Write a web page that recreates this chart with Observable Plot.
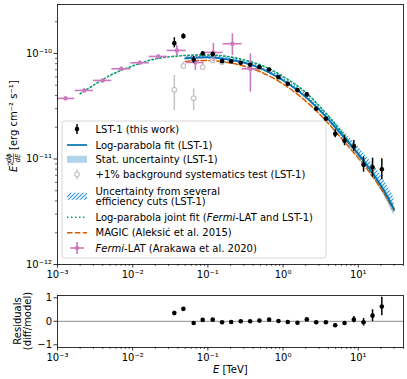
<!DOCTYPE html>
<html>
<head>
<meta charset="utf-8">
<script src="https://cdn.jsdelivr.net/npm/d3@7"></script>
<script src="https://cdn.jsdelivr.net/npm/@observablehq/plot@0.6"></script>
<style>
  html, body { margin: 0; padding: 0; background: white; }
  #wrap { position: relative; width: 407px; height: 379px; background: white; font-family: "DejaVu Sans"; }
  #wrap > svg.plot { position: absolute; left: 0; }
</style>
</head>
<body>
<svg width="0" height="0" style="position:absolute">
  <defs>
    <pattern id="hatch" patternUnits="userSpaceOnUse" width="4" height="4">
      <path d="M-1,1 l2,-2 M0,4 l4,-4 M3,5 l2,-2" stroke="#2e95e0" stroke-width="1.1"/>
    </pattern>
  </defs>
</svg>
<div id="wrap"></div>
<script>
// ---------- data ----------
// LST-1 flux points (TeV, erg cm^-2 s^-1)
const lstE  = [0.0358, 0.0472, 0.0647, 0.0853, 0.116, 0.1545, 0.204, 0.2735, 0.365, 0.485, 0.653, 0.869, 1.156, 1.555, 2.07, 2.76, 3.71, 4.94, 6.57, 8.74, 11.77, 15.5, 20.6];
const lstF  = [1.252e-10, 1.459e-10, 8.72e-11, 1.0e-10, 9.85e-11, 8.45e-11, 8.40e-11, 8.16e-11, 7.81e-11, 7.42e-11, 7.05e-11, 5.96e-11, 5.16e-11, 4.49e-11, 4.09e-11, 2.99e-11, 2.405e-11, 1.734e-11, 1.488e-11, 1.322e-11, 8.81e-12, 8.36e-12, 8.00e-12];
const lstLo = [1.13e-10, 1.366e-10, 8.09e-11, 9.6e-11, 9.45e-11, 8.15e-11, 8.1e-11, 7.9e-11, 7.6e-11, 7.2e-11, 6.85e-11, 5.8e-11, 5.0e-11, 4.35e-11, 3.95e-11, 2.88e-11, 2.3e-11, 1.59e-11, 1.334e-11, 1.186e-11, 7.5e-12, 6.72e-12, 6.35e-12];
const lstHi = [1.409e-10, 1.537e-10, 9.37e-11, 1.04e-10, 1.025e-10, 8.75e-11, 8.7e-11, 8.4e-11, 8.0e-11, 7.65e-11, 7.25e-11, 6.12e-11, 5.32e-11, 4.63e-11, 4.23e-11, 3.1e-11, 2.51e-11, 1.89e-11, 1.66e-11, 1.498e-11, 1.04e-11, 1.018e-11, 1.005e-11];
// residuals (diff/model)
const resid    = [0.35, 0.53, -0.07, 0.06, 0.07, -0.04, -0.03, 0.0, 0.0, 0.03, 0.07, 0.01, -0.03, -0.06, 0.08, -0.04, -0.04, -0.17, -0.07, 0.07, -0.04, 0.24, 0.63];
const residErr = [0.08, 0.05, 0.04, 0.03, 0.03, 0.03, 0.02, 0.02, 0.02, 0.02, 0.02, 0.02, 0.02, 0.02, 0.02, 0.03, 0.03, 0.05, 0.06, 0.13, 0.16, 0.25, 0.39];

// +1% background systematics test
const grayE  = [0.0358, 0.0472, 0.0647, 0.0853, 0.116, 0.1545];
const grayF  = [4.53e-11, 7.61e-11, 3.77e-11, 7.41e-11, 8.58e-11, 8.27e-11];
const grayLo = [2.88e-11, 7.16e-11, 2.88e-11, 6.9e-11, 8.25e-11, 7.95e-11];
const grayHi = [6.19e-11, 8.27e-11, 4.63e-11, 8.04e-11, 8.9e-11, 8.6e-11];

// Fermi-LAT (Arakawa et al. 2020)
const fermiE   = [1.278e-3, 2.267e-3, 3.999e-3, 7.05e-3, 1.243e-2, 2.193e-2, 3.866e-2, 6.82e-2, 0.1184, 0.212, 0.368];
const fermiElo = [1.01e-3, 1.72e-3, 3.015e-3, 5.28e-3, 9.43e-3, 1.663e-2, 2.888e-2, 5.17e-2, 8.9e-2, 0.1594, 0.2853];
const fermiEhi = [1.70e-3, 3.015e-3, 5.28e-3, 9.43e-3, 1.663e-2, 2.888e-2, 5.17e-2, 8.98e-2, 0.1594, 0.2853, 0.4748];
const fermiF   = [3.75e-11, 4.46e-11, 5.55e-11, 7.16e-11, 8.16e-11, 9.37e-11, 1.068e-10, 8.22e-11, 1.022e-10, 1.236e-10, 7.16e-11];
const fermiFlo = [3.6e-11, 4.3e-11, 5.4e-11, 6.95e-11, 7.9e-11, 9.05e-11, 9.57e-11, 6.9e-11, 8.4e-11, 9.57e-11, 4.30e-11];
const fermiFhi = [3.9e-11, 4.6e-11, 5.7e-11, 7.4e-11, 8.45e-11, 9.7e-11, 1.191e-10, 9.57e-11, 1.244e-10, 1.537e-10, 9.94e-11];

// Log-parabola fit (LST-1), bands, MAGIC
const fitE    = [0.05, 0.1, 0.2, 0.4, 0.8, 1.5, 3, 6, 12, 20, 30];
const fitF    = [8.97e-11, 9.17e-11, 8.68e-11, 7.70e-11, 6.12e-11, 4.56e-11, 2.945e-11, 1.707e-11, 9.47e-12, 5.61e-12, 3.32e-12];
const statLo  = [8.7e-11, 8.95e-11, 8.5e-11, 7.55e-11, 6.0e-11, 4.45e-11, 2.86e-11, 1.64e-11, 8.9e-12, 5.1e-12, 2.9e-12];
const statHi  = [9.25e-11, 9.4e-11, 8.86e-11, 7.85e-11, 6.24e-11, 4.67e-11, 3.03e-11, 1.78e-11, 1.0e-11, 6.1e-12, 3.7e-12];
const hatchLo = [8.6e-11, 8.9e-11, 8.45e-11, 7.5e-11, 5.95e-11, 4.42e-11, 2.84e-11, 1.63e-11, 8.9e-12, 5.2e-12, 3.05e-12];
const hatchHi = [9.45e-11, 9.55e-11, 9.05e-11, 8.05e-11, 6.5e-11, 4.85e-11, 3.2e-11, 1.93e-11, 1.12e-11, 7.0e-12, 4.3e-12];
const magicF  = [8.40e-11, 8.58e-11, 8.13e-11, 7.13e-11, 5.67e-11, 4.18e-11, 2.70e-11, 1.564e-11, 8.68e-12, 5.25e-12, 3.25e-12];

// Log-parabola joint fit (Fermi-LAT and LST-1)
const jointE = [0.002, 0.005, 0.01, 0.02, 0.05, 0.1, 0.2, 0.5, 1, 2, 5, 10, 20, 30];
const jointF = [4.15e-11, 6.19e-11, 7.61e-11, 8.87e-11, 9.57e-11, 9.67e-11, 9.27e-11, 7.78e-11, 6.05e-11, 4.27e-11, 2.12e-11, 1.10e-11, 5.6e-12, 3.35e-12];

// ticks
const xMajor = [1e-3, 1e-2, 1e-1, 1, 10];
const xLabels = ["10⁻³", "10⁻²", "10⁻¹", "10⁰", "10¹"];
const yMajor = [1e-12, 1e-11, 1e-10];
const yLabels = ["10⁻¹²", "10⁻¹¹", "10⁻¹⁰"];
const rTicks = [-1, 0, 1];
const rLabels = ["−1", "0", "1"];

// legend texts
const legendItems = [
  {key: "lst",   y: 129,   lines: [[["LST-1 (this work)"]]]},
  {key: "fit",   y: 145,   lines: [[["Log-parabola fit (LST-1)"]]]},
  {key: "stat",  y: 159.3, lines: [[["Stat. uncertainty (LST-1)"]]]},
  {key: "bkg",   y: 174.3, lines: [[["+1% background systematics test (LST-1)"]]]},
  {key: "hatch", y: 196.3, lines: [[["Uncertainty from several"]], [["efficiency cuts (LST-1)"]]]},
  {key: "joint", y: 217.3, lines: [[["Log-parabola joint fit ("], ["Fermi", true], ["-LAT and LST-1)"]]]},
  {key: "magic", y: 232.7, lines: [[["MAGIC (Aleksić et al. 2015)"]]]},
  {key: "fermi", y: 248,   lines: [[["Fermi", true], ["-LAT (Arakawa et al. 2020)"]]]}
];

// colours
const C = {blue: "#0173b2", stat: "#b0d4ea", orange: "#d55e00", green: "#029e73", pink: "#cc78bc", gray: "#c4c4c4"};

// ---------- tables ----------
const lst = lstE.map((e, i) => ({e, f: lstF[i], lo: lstLo[i], hi: lstHi[i], r: resid[i], r1: resid[i] - residErr[i], r2: resid[i] + residErr[i]}));
const gray = grayE.map((e, i) => ({e, f: grayF[i], lo: grayLo[i], hi: grayHi[i]}));
const fermi = fermiE.map((e, i) => ({e, f: fermiF[i], elo: fermiElo[i], ehi: fermiEhi[i], lo: fermiFlo[i], hi: fermiFhi[i]}));
const fit = fitE.map((e, i) => ({e, f: fitF[i], slo: statLo[i], shi: statHi[i], hlo: hatchLo[i], hhi: hatchHi[i], m: magicF[i]}));
const joint = jointE.map((e, i) => ({e, f: jointF[i]}));

const xMinor = [];
for (let k = -3; k <= 1; k++) for (let m = 2; m <= 9; m++) { const v = m * Math.pow(10, k); if (v <= 40) xMinor.push(v); }
const yMinor = [];
for (let k = -12; k <= -10; k++) for (let m = 2; m <= 9; m++) { const v = m * Math.pow(10, k); if (v <= 2.91e-10) yMinor.push(v); }

const xfmt = new Map(xMajor.map((v, i) => [v, xLabels[i]]));
const yfmt = new Map(yMajor.map((v, i) => [v, yLabels[i]]));
const rfmt = new Map(rTicks.map((v, i) => [v, rLabels[i]]));

const style = {fontFamily: "DejaVu Sans", fontSize: "10px", background: "white", color: "black", overflow: "visible"};
const xScale = {type: "log", domain: [1e-3, 40]};

function xAxes() {
  return [
    Plot.axisX({ticks: xMajor, tickFormat: d => xfmt.get(d), tickSize: 3.5, tickPadding: 2.5, label: null, strokeWidth: 0.8}),
    Plot.axisX({ticks: xMinor, tickFormat: () => "", tickSize: 2, label: null, strokeWidth: 0.6})
  ];
}

// ---------- main panel ----------
const main = Plot.plot({
  width: 407, height: 280,
  marginLeft: 57, marginRight: 4, marginTop: 4, marginBottom: 16,
  style,
  x: xScale,
  y: {type: "log", domain: [1e-12, 2.91e-10]},
  marks: [
    Plot.areaY(fit, {x: "e", y1: "slo", y2: "shi", fill: C.stat, curve: "catmull-rom"}),
    Plot.areaY(fit, {x: "e", y1: "hlo", y2: "hhi", fill: "url(#hatch)", curve: "catmull-rom"}),
    Plot.line(joint, {x: "e", y: "f", stroke: C.green, strokeWidth: 1.6, strokeDasharray: "1.5,2.5", curve: "catmull-rom"}),
    Plot.line(fit, {x: "e", y: "m", stroke: C.orange, strokeWidth: 1.5, strokeDasharray: "5.5,2.4", curve: "catmull-rom"}),
    Plot.line(fit, {x: "e", y: "f", stroke: C.blue, strokeWidth: 1.7, curve: "catmull-rom"}),
    Plot.ruleX(gray, {x: "e", y1: "lo", y2: "hi", stroke: C.gray, strokeWidth: 1.5}),
    Plot.dot(gray, {x: "e", y: "f", r: 2.3, fill: "white", stroke: C.gray, strokeWidth: 1.2}),
    Plot.ruleY(fermi, {y: "f", x1: "elo", x2: "ehi", stroke: C.pink, strokeWidth: 1.6}),
    Plot.ruleX(fermi, {x: "e", y1: "lo", y2: "hi", stroke: C.pink, strokeWidth: 1.6}),
    Plot.dot(fermi, {x: "e", y: "f", r: 2.2, fill: C.pink}),
    Plot.ruleX(lst, {x: "e", y1: "lo", y2: "hi", stroke: "black", strokeWidth: 1.5}),
    Plot.dot(lst, {x: "e", y: "f", r: 2.3, fill: "black"}),
    ...xAxes(),
    Plot.axisY({ticks: yMajor, tickFormat: d => yfmt.get(d), tickSize: 3.5, tickPadding: 2, label: null, strokeWidth: 0.8}),
    Plot.axisY({ticks: yMinor, tickFormat: () => "", tickSize: 2, label: null, strokeWidth: 0.6}),
    Plot.frame({stroke: "black", strokeWidth: 0.8})
  ]
});
main.classList.add("plot");
main.style.top = "0px";

// ---------- residual panel ----------
const res = Plot.plot({
  width: 407, height: 99,
  marginLeft: 57, marginRight: 4, marginTop: 15, marginBottom: 32,
  style,
  x: xScale,
  y: {domain: [-1.115, 1.098]},
  marks: [
    Plot.ruleY([0], {stroke: "#8c8c8c", strokeWidth: 1}),
    Plot.ruleX(lst, {x: "e", y1: "r1", y2: "r2", stroke: "black", strokeWidth: 1.5}),
    Plot.dot(lst, {x: "e", y: "r", r: 2.3, fill: "black"}),
    ...xAxes(),
    Plot.axisY({ticks: rTicks, tickFormat: d => rfmt.get(d), tickSize: 3.5, tickPadding: 2, label: null, strokeWidth: 0.8}),
    Plot.frame({stroke: "black", strokeWidth: 0.8})
  ]
});
res.classList.add("plot");
res.style.top = "280px";

const wrap = document.getElementById("wrap");
wrap.appendChild(main);
wrap.appendChild(res);

// ---------- labels & legend ----------
const S = d3.select(main);
const yl = S.append("g").attr("transform", "translate(17,131) rotate(-90)")
  .attr("font-family", "DejaVu Sans").attr("font-size", 10).attr("fill", "black").attr("text-anchor", "start");
yl.append("text").attr("x", -41).attr("y", 0)
  .html('<tspan font-style="italic">E</tspan><tspan font-size="7" dy="-4">2</tspan>');
yl.append("text").attr("x", -27).attr("y", -5.8).attr("font-size", 7).attr("text-anchor", "middle").attr("font-style", "italic").text("dϕ");
yl.append("line").attr("x1", -31.5).attr("x2", -22.5).attr("y1", -3.6).attr("y2", -3.6).attr("stroke", "black").attr("stroke-width", 0.6);
yl.append("text").attr("x", -27).attr("y", 2.8).attr("font-size", 7).attr("text-anchor", "middle").attr("font-style", "italic").text("dE");
yl.append("text").attr("x", -19).attr("y", 0).text("[erg cm⁻² s⁻¹]");

const L = S.append("g").attr("font-family", "DejaVu Sans").attr("font-size", 10).attr("fill", "black").attr("text-anchor", "start");
L.append("rect").attr("x", 62).attr("y", 121).attr("width", 264).attr("height", 137).attr("rx", 2.5)
  .attr("fill", "white").attr("fill-opacity", 0.8).attr("stroke", "#cccccc").attr("stroke-width", 0.8);
const hx0 = 67, hx1 = 87, hxc = 77, tx = 95.5;
for (const it of legendItems) {
  const y = it.y;
  if (it.key === "lst") {
    L.append("line").attr("x1", hxc).attr("x2", hxc).attr("y1", y - 5).attr("y2", y + 5).attr("stroke", "black").attr("stroke-width", 1.5);
    L.append("circle").attr("cx", hxc).attr("cy", y).attr("r", 2.3).attr("fill", "black");
  } else if (it.key === "fit") {
    L.append("line").attr("x1", hx0).attr("x2", hx1).attr("y1", y).attr("y2", y).attr("stroke", C.blue).attr("stroke-width", 1.7);
  } else if (it.key === "stat") {
    L.append("rect").attr("x", hx0).attr("y", y - 3.5).attr("width", hx1 - hx0).attr("height", 7).attr("fill", C.stat);
  } else if (it.key === "bkg") {
    L.append("line").attr("x1", hxc).attr("x2", hxc).attr("y1", y - 5).attr("y2", y + 5).attr("stroke", C.gray).attr("stroke-width", 1.5);
    L.append("circle").attr("cx", hxc).attr("cy", y).attr("r", 2.3).attr("fill", "white").attr("stroke", C.gray).attr("stroke-width", 1.2);
  } else if (it.key === "hatch") {
    L.append("rect").attr("x", hx0).attr("y", y - 3.5).attr("width", hx1 - hx0).attr("height", 7).attr("fill", "url(#hatch)");
  } else if (it.key === "joint") {
    L.append("line").attr("x1", hx0).attr("x2", hx1).attr("y1", y).attr("y2", y).attr("stroke", C.green).attr("stroke-width", 1.6).attr("stroke-dasharray", "1.5,2.5");
  } else if (it.key === "magic") {
    L.append("line").attr("x1", hx0).attr("x2", hx1).attr("y1", y).attr("y2", y).attr("stroke", C.orange).attr("stroke-width", 1.5).attr("stroke-dasharray", "5.5,2.4");
  } else if (it.key === "fermi") {
    L.append("line").attr("x1", hxc - 7).attr("x2", hxc + 7).attr("y1", y).attr("y2", y).attr("stroke", C.pink).attr("stroke-width", 1.6);
    L.append("line").attr("x1", hxc).attr("x2", hxc).attr("y1", y - 6).attr("y2", y + 6).attr("stroke", C.pink).attr("stroke-width", 1.6);
    L.append("circle").attr("cx", hxc).attr("cy", y).attr("r", 2.2).attr("fill", C.pink);
  }
  const n = it.lines.length;
  it.lines.forEach((parts, li) => {
    const ty = y + 3.6 + (li - (n - 1) / 2) * 10.7;
    const t = L.append("text").attr("x", tx).attr("y", ty);
    for (const [s, ital] of parts) {
      const sp = t.append("tspan").text(s);
      if (ital) sp.attr("font-style", "italic");
    }
  });
}

const R = d3.select(res);
const rl = R.append("g").attr("transform", "translate(0,41) rotate(-90)")
  .attr("font-family", "DejaVu Sans").attr("font-size", 10).attr("fill", "black").attr("text-anchor", "middle");
rl.append("text").attr("x", 0).attr("y", 20.5).text("Residuals");
rl.append("text").attr("x", 0).attr("y", 30.5).text("(diff/model)");
R.append("text").attr("x", 230.3).attr("y", 93).attr("text-anchor", "middle")
  .attr("font-family", "DejaVu Sans").attr("font-size", 10).attr("fill", "black")
  .html('<tspan font-style="italic">E</tspan> [TeV]');
</script>
</body>
</html>
